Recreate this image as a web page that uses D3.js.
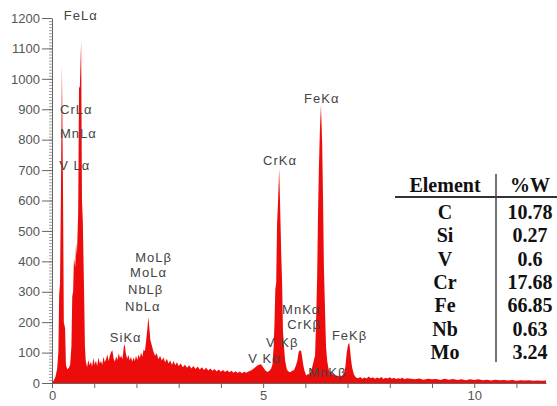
<!DOCTYPE html>
<html>
<head>
<meta charset="utf-8">
<script src="https://cdn.jsdelivr.net/npm/d3@7"></script>
<style>
  body { margin: 0; background: #fff; }
  svg { display: block; }
</style>
</head>
<body>
<svg id="chart"></svg>
<script>
// spectrum, energy in keV and counts
const energy = [
  0.00, 0.04, 0.08, 0.12, 0.15, 0.17, 0.19, 0.21, 0.235, 0.26, 0.28, 0.31, 0.33, 0.36, 0.40, 0.43,
  0.46, 0.48, 0.50, 0.52, 0.55, 0.57, 0.59, 0.62, 0.64, 0.66, 0.69, 0.71, 0.73, 0.76, 0.78,
  0.80, 0.83, 0.86, 0.89, 0.92, 0.95, 0.98, 1.01, 1.04, 1.07, 1.10, 1.13, 1.16, 1.19, 1.22, 1.25,
  1.28, 1.31, 1.34, 1.37, 1.40, 1.43, 1.46, 1.49, 1.52, 1.55, 1.58, 1.61, 1.64, 1.67, 1.70, 1.72,
  1.75, 1.78, 1.81, 1.84, 1.87, 1.90, 1.93, 1.96, 1.99, 2.02, 2.05, 2.08, 2.11, 2.14, 2.17, 2.20,
  2.23, 2.26, 2.28, 2.30, 2.33, 2.36, 2.40, 2.44, 2.48, 2.52, 2.56, 2.60, 2.64, 2.68, 2.72, 2.76,
  2.80, 2.84, 2.88, 2.92, 2.96, 3.00, 3.05, 3.10, 3.15, 3.20, 3.25, 3.30, 3.35, 3.40, 3.45, 3.50,
  3.55, 3.60, 3.65, 3.70, 3.75, 3.80, 3.85, 3.90, 3.95, 4.00, 4.05, 4.10, 4.15, 4.20, 4.25, 4.30,
  4.35, 4.40, 4.45, 4.50, 4.55, 4.60, 4.65, 4.70, 4.75, 4.80, 4.85, 4.90, 4.95, 5.00, 5.05, 5.10,
  5.15, 5.19, 5.22, 5.25, 5.27, 5.29, 5.31, 5.33, 5.355, 5.38, 5.40, 5.43, 5.45, 5.47, 5.50, 5.52,
  5.56, 5.60, 5.64, 5.69, 5.73, 5.77, 5.81, 5.84, 5.87, 5.90, 5.92, 5.95, 5.98, 6.02, 6.06, 6.10,
  6.14, 6.18, 6.21, 6.23, 6.25, 6.28, 6.30, 6.32, 6.345, 6.37, 6.40, 6.42, 6.44, 6.47, 6.49, 6.52,
  6.56, 6.60, 6.64, 6.68, 6.72, 6.76, 6.80, 6.84, 6.88, 6.92, 6.95, 6.98, 7.01, 7.04, 7.06, 7.08,
  7.11, 7.15, 7.20, 7.25, 7.30, 7.35, 7.40, 7.45, 7.50, 7.55, 7.60, 7.65, 7.70, 7.75, 7.80, 7.85,
  7.90, 7.95, 8.00, 8.05, 8.10, 8.15, 8.20, 8.25, 8.30, 8.35, 8.40, 8.50, 8.60, 8.70, 8.80, 8.90,
  9.00, 9.10, 9.20, 9.30, 9.40, 9.50, 9.60, 9.70, 9.80, 9.90, 10.00, 10.10, 10.20, 10.30, 10.40,
  10.50, 10.60, 10.70, 10.80, 10.90, 11.00, 11.10, 11.20, 11.30, 11.40, 11.50, 11.60, 11.70
];
const counts = [
  0, 8, 20, 45, 100, 290, 330, 600, 1045, 650, 200, 180, 60, 45, 50, 60,
  120, 285, 300, 410, 380, 460, 420, 560, 970, 975, 1124, 600, 530, 300, 120,
  72, 52, 76, 58, 70, 54, 82, 60, 74, 56, 84, 64, 72, 60, 86, 68,
  78, 94, 72, 90, 102, 108, 80, 70, 88, 76, 98, 82, 90, 78, 118, 128,
  96, 80, 92, 74, 86, 70, 84, 72, 90, 76, 94, 82, 100, 86, 110, 104,
  140, 180, 217, 190, 141, 126, 104, 90, 98, 78, 90, 74, 84, 68, 80, 64,
  74, 60, 72, 58, 68, 56, 64, 52, 60, 50, 58, 48, 56, 46, 54, 44,
  52, 43, 50, 41, 48, 40, 46, 38, 44, 37, 43, 36, 42, 35, 40, 34,
  39, 33, 38, 32, 37, 34, 38, 40, 44, 50, 56, 60, 62, 52, 42, 36,
  40, 48, 60, 120, 200, 310, 330, 520, 600, 704, 600, 420, 330, 170, 110, 75,
  45, 38, 35, 40, 42, 55, 72, 100, 108, 105, 90, 60, 40, 25, 30, 28,
  40, 62, 80, 90, 180, 350, 550, 700, 832, 914, 780, 600, 380, 220, 120, 70,
  40, 35, 30, 28, 25, 24, 22, 20, 26, 34, 55, 100, 125, 132, 110, 80,
  50, 28, 18, 16, 20, 14, 18, 15, 21, 16, 19, 14, 18, 15, 20, 13,
  17, 15, 19, 14, 17, 13, 16, 14, 17, 12, 16, 14, 12, 15, 11, 14,
  12, 13, 10, 14, 11, 13, 10, 12, 9, 12, 10, 12, 9, 11, 8,
  11, 9, 10, 8, 10, 7, 9, 8, 9, 7, 8, 7, 8
];

// peak labels and their anchors (keV, counts)
const peakNames = ["FeL\u03b1", "CrL\u03b1", "MnL\u03b1", "V L\u03b1", "MoL\u03b2", "MoL\u03b1", "NbL\u03b2", "NbL\u03b1",
  "SiK\u03b1", "CrK\u03b1", "FeK\u03b1", "MnK\u03b1", "CrK\u03b2", "V K\u03b2", "FeK\u03b2", "V K\u03b1", "MnK\u03b2"];
const peakKeV = [0.28, 0.19, 0.19, 0.17, 1.97, 1.85, 1.80, 1.73, 1.37, 5.00, 5.97, 5.45, 5.57, 5.07, 6.63, 4.65, 6.07];
const peakCounts = [1192, 886, 807, 699, 399, 347, 294, 238, 136, 718, 922, 228, 176, 120, 143, 67, 21];

// composition table
const elements = ["C", "Si", "V", "Cr", "Fe", "Nb", "Mo"];
const weightPct = ["10.78", "0.27", "0.6", "17.68", "66.85", "0.63", "3.24"];

// axis ticks
const yTicks = d3.range(0, 1201, 100);
const yMinor = d3.range(0, 1201, 10);
const xTicks = d3.range(0, 12, 1);
const xLabels = [0, 5, 10];

const width = 557;
const height = 406;

const svg = d3.select("#chart").attr("width", width).attr("height", height);

const x = d3.scaleLinear().domain([0, 11.7]).range([52, 546]);
const y = d3.scaleLinear().domain([0, 1200]).range([383, 18]);

const spectrum = energy.map((e, i) => [e, counts[i]]);

svg.append("path")
  .datum(spectrum)
  .attr("fill", "#ec0c0c")
  .attr("d", d3.area().x(d => x(d[0])).y0(y(0)).y1(d => y(d[1])));

// y axis: minor ruler + labelled ticks
const axisColor = "#666";
svg.append("g")
  .attr("transform", "translate(52,0)")
  .call(d3.axisLeft(y).tickValues(yMinor).tickSize(3).tickFormat(""))
  .call(g => g.select(".domain").remove())
  .call(g => g.selectAll("line").attr("stroke", "#888").attr("stroke-width", 0.8));

svg.append("g")
  .attr("transform", "translate(52,0)")
  .call(d3.axisLeft(y).tickValues(yTicks).tickSize(10).tickSizeOuter(0).tickPadding(2).tickFormat(d3.format("d")))
  .call(g => g.select(".domain").attr("stroke", axisColor))
  .call(g => g.selectAll("line").attr("stroke", axisColor))
  .call(g => g.selectAll("text").attr("fill", "#555").style("font", "13px 'Liberation Sans', Arial, sans-serif"));

// x axis
svg.append("g")
  .attr("transform", "translate(0,383)")
  .call(d3.axisBottom(x).tickValues(xTicks).tickSize(5).tickSizeOuter(0).tickPadding(3)
    .tickFormat(d => xLabels.includes(d) ? d : ""))
  .call(g => g.select(".domain").attr("stroke", axisColor))
  .call(g => g.selectAll("line").attr("stroke", axisColor))
  .call(g => g.selectAll("text").attr("fill", "#555").style("font", "13px 'Liberation Sans', Arial, sans-serif"));

// peak labels
svg.append("g")
  .selectAll("text")
  .data(peakNames)
  .join("text")
    .attr("x", (d, i) => x(peakKeV[i]))
    .attr("y", (d, i) => y(peakCounts[i]))
    .attr("fill", "#444")
    .style("font", "13px 'Liberation Sans', Arial, sans-serif")
    .style("letter-spacing", "1px")
    .text(d => d);

// composition table
const table = svg.append("g").style("font", "bold 20px 'Liberation Serif', 'Times New Roman', serif").attr("fill", "#111");
const colEl = 445, colW = 530, headY = 185, row0 = 212, rowStep = 23.3;

table.append("text").attr("x", colEl).attr("y", headY).attr("dy", "0.35em").attr("text-anchor", "middle").text("Element");
table.append("text").attr("x", colW).attr("y", headY).attr("dy", "0.35em").attr("text-anchor", "middle").text("%W");

table.selectAll(".el").data(elements).join("text")
  .attr("class", "el")
  .attr("x", colEl).attr("y", (d, i) => row0 + i * rowStep).attr("dy", "0.35em")
  .attr("text-anchor", "middle").text(d => d);

table.selectAll(".wt").data(weightPct).join("text")
  .attr("class", "wt")
  .attr("x", colW).attr("y", (d, i) => row0 + i * rowStep).attr("dy", "0.35em")
  .attr("text-anchor", "middle").text(d => d);

svg.append("line").attr("x1", 395).attr("x2", 557).attr("y1", 197).attr("y2", 197)
  .attr("stroke", "#333").attr("stroke-width", 2);
svg.append("line").attr("x1", 496).attr("x2", 496).attr("y1", 174).attr("y2", 362)
  .attr("stroke", "#444").attr("stroke-width", 1.5);
</script>
</body>
</html>
